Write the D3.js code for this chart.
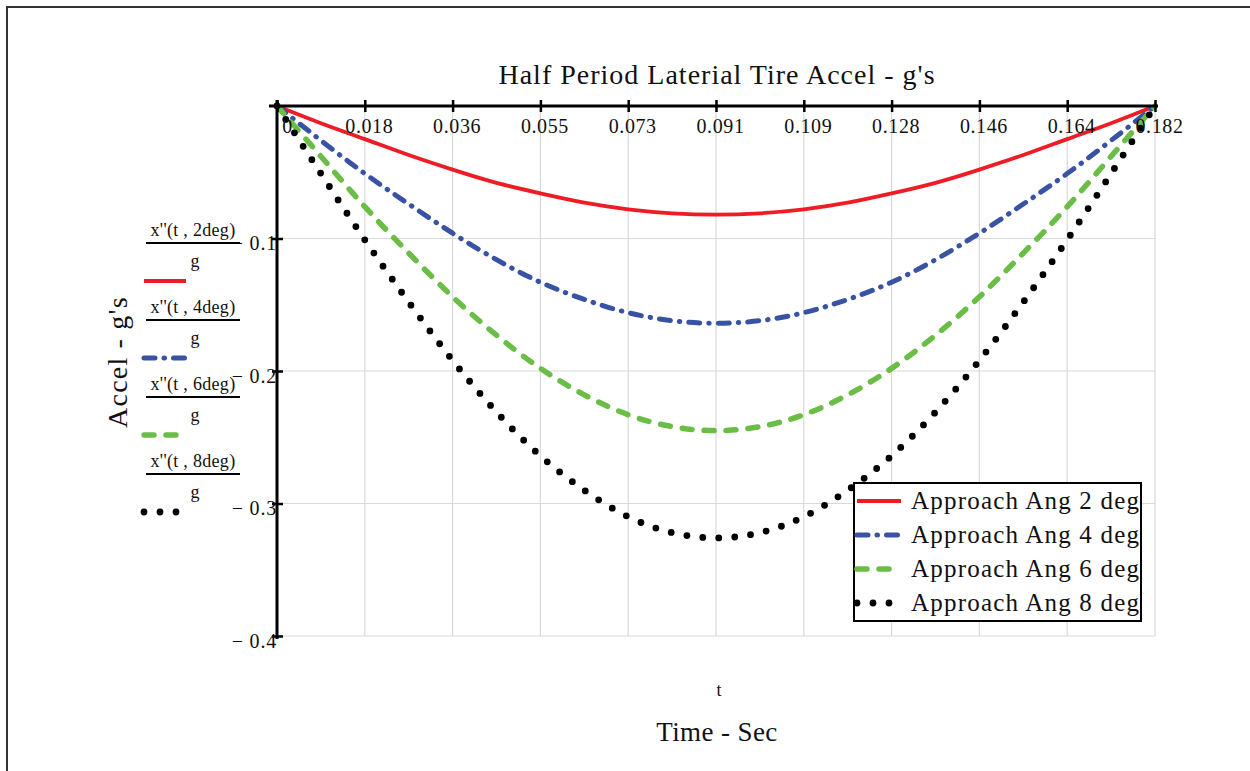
<!DOCTYPE html>
<html>
<head>
<meta charset="utf-8">
<script src="https://cdn.jsdelivr.net/npm/d3@7"></script>
<style>
  body { margin: 0; background: #fff; }
  text { font-family: "Liberation Serif", "DejaVu Serif", serif; fill: #111; }
</style>
</head>
<body>
<div id="chart"></div>
<script>
// time axis: 10 equal divisions up to half period
const tMax = 0.1822;
const xTickLabels = ["0", "0.018", "0.036", "0.055", "0.073", "0.091", "0.109", "0.128", "0.146", "0.164", "0.182"];
const yTickValues = [-0.1, -0.2, -0.3, -0.4];
const yTickLabels = ["\u2212 0.1", "\u2212 0.2", "\u2212 0.3", "\u2212 0.4"];

// values read at every half tick (21 samples)
const acc2 = [0, -0.013, -0.025, -0.037, -0.048, -0.058, -0.066, -0.073, -0.078, -0.081, -0.082,
              -0.081, -0.078, -0.073, -0.066, -0.058, -0.048, -0.037, -0.025, -0.013, 0];
const acc4 = [0, -0.026, -0.051, -0.074, -0.096, -0.116, -0.133, -0.146, -0.156, -0.162, -0.164,
              -0.162, -0.156, -0.146, -0.133, -0.116, -0.096, -0.074, -0.051, -0.026, 0];
const acc6 = [0, -0.038, -0.076, -0.111, -0.144, -0.173, -0.198, -0.218, -0.233, -0.242, -0.245,
              -0.242, -0.233, -0.218, -0.198, -0.173, -0.144, -0.111, -0.076, -0.038, 0];
const acc8 = [0, -0.051, -0.101, -0.148, -0.192, -0.231, -0.264, -0.290, -0.310, -0.322, -0.326,
              -0.322, -0.310, -0.290, -0.264, -0.231, -0.192, -0.148, -0.101, -0.051, 0];

const seriesNames = ["Approach Ang 2 deg", "Approach Ang 4 deg", "Approach Ang 6 deg", "Approach Ang 8 deg"];
const fracLabels = ["x''(t , 2deg)", "x''(t , 4deg)", "x''(t , 6deg)", "x''(t , 8deg)"];

const W = 1250, H = 771;
const pL = 277, pR = 1155, pT = 106, pB = 636;

const svg = d3.select("#chart").append("svg").attr("width", W).attr("height", H);

// outer frame
svg.append("rect").attr("x", 7).attr("y", 7).attr("width", W + 20).attr("height", H + 20)
  .attr("fill", "none").attr("stroke", "#333").attr("stroke-width", 2);

let x = d3.scaleLinear().domain([0, tMax]).range([pL, pR]);
let y = d3.scaleLinear().domain([0, -0.4]).range([pT, pB]);

const xTicks = xTickLabels.map((d, i) => tMax * i / 10);

// grid
svg.selectAll(".vg").data(xTicks.slice(1)).enter().append("line")
  .attr("x1", d => x(d)).attr("x2", d => x(d)).attr("y1", pT).attr("y2", pB)
  .attr("stroke", "#d9d9d9").attr("stroke-width", 1.2);
svg.selectAll(".hg").data(yTickValues).enter().append("line")
  .attr("x1", pL).attr("x2", pR).attr("y1", d => y(d)).attr("y2", d => y(d))
  .attr("stroke", "#d9d9d9").attr("stroke-width", 1.2);

const samples = acc2.map((d, i) => tMax * i / 20);
const line = d3.line().x((d, i) => x(samples[i])).y(d => y(d)).curve(d3.curveNatural);

const styles = [
  { color: "#ee1c25", width: 3.8, dash: null },
  { color: "#3953a4", width: 5, dash: "11,9,0.5,9" },
  { color: "#6abd45", width: 5.5, dash: "10,12" },
  { color: "#000", width: 6.8, dash: "0,16" }
];
const allSeries = [acc2, acc4, acc6, acc8];

allSeries.forEach((s, i) => {
  svg.append("path").datum(s).attr("d", line)
    .attr("fill", "none").attr("stroke", styles[i].color)
    .attr("stroke-width", styles[i].width)
    .attr("stroke-linecap", i == 0 ? "butt" : "round")
    .attr("stroke-dasharray", styles[i].dash);
});

// axes (top axis, left axis)
const xAxis = d3.axisTop(x).tickValues(xTicks).tickSize(0).tickFormat("");
const gx = svg.append("g").attr("transform", `translate(0,${pT})`).call(xAxis);
gx.select(".domain").attr("stroke", "#000").attr("stroke-width", 3).attr("d", `M${pL - 8},0H${pR + 3}`);
gx.selectAll(".tick").append("line").attr("y1", -6).attr("y2", 6).attr("stroke", "#000").attr("stroke-width", 2.5);
gx.selectAll(".tick").append("text")
  .attr("x", (d, i) => i == 0 ? 10 : 4).attr("y", 27)
  .attr("text-anchor", "middle").attr("font-size", 20).attr("letter-spacing", 0.6)
  .text((d, i) => xTickLabels[i]);

const yAxis = d3.axisLeft(y).tickValues(yTickValues).tickSize(0).tickFormat("");
const gy = svg.append("g").attr("transform", `translate(${pL},0)`).call(yAxis);
gy.select(".domain").attr("stroke", "#000").attr("stroke-width", 3).attr("d", `M0,${pT - 6}V${pB + 3}`);
gy.selectAll(".tick").append("line").attr("x1", -5).attr("x2", 6).attr("stroke", "#000").attr("stroke-width", 2.5);
gy.selectAll(".tick").append("text")
  .attr("x", 0).attr("y", 11)
  .attr("text-anchor", "end").attr("font-size", 20).attr("letter-spacing", 0.8)
  .text((d, i) => yTickLabels[i]);

// titles
svg.append("text").attr("x", 717).attr("y", 84).attr("text-anchor", "middle")
  .attr("font-size", 28).attr("letter-spacing", 1).text("Half Period Laterial Tire Accel - g's");
svg.append("text").attr("transform", "translate(127,362) rotate(-90)").attr("text-anchor", "middle")
  .attr("font-size", 28).attr("letter-spacing", 1.2).text("Accel - g's");
svg.append("text").attr("x", 719).attr("y", 696).attr("text-anchor", "middle")
  .attr("font-size", 18).text("t");
svg.append("text").attr("x", 717).attr("y", 741).attr("text-anchor", "middle")
  .attr("font-size", 27).attr("letter-spacing", 0.4).text("Time - Sec");

// left legend (fractions over g)
fracLabels.forEach((lab, i) => {
  const oy = 243 + i * 77;
  svg.append("text").attr("x", 193).attr("y", oy - 7).attr("text-anchor", "middle")
    .attr("font-size", 18).attr("letter-spacing", 0.3).text(lab);
  svg.append("line").attr("x1", 146).attr("x2", 240).attr("y1", oy).attr("y2", oy)
    .attr("stroke", "#000").attr("stroke-width", 2);
  svg.append("text").attr("x", 195).attr("y", oy + 24).attr("text-anchor", "middle")
    .attr("font-size", 18).text("g");
  svg.append("line").attr("x1", 144).attr("x2", 186).attr("y1", oy + 38).attr("y2", oy + 38)
    .attr("stroke", styles[i].color).attr("stroke-width", styles[i].width)
    .attr("stroke-linecap", i == 0 ? "butt" : "round")
    .attr("stroke-dasharray", styles[i].dash);
});

// right legend box
const lg = svg.append("g").attr("transform", "translate(854,483)");
lg.append("rect").attr("width", 287).attr("height", 138)
  .attr("fill", "#fff").attr("stroke", "#000").attr("stroke-width", 2);
seriesNames.forEach((n, i) => {
  const ly = 18 + i * 34;
  lg.append("line").attr("x1", 3).attr("x2", 47).attr("y1", ly).attr("y2", ly)
    .attr("stroke", styles[i].color).attr("stroke-width", styles[i].width)
    .attr("stroke-linecap", i == 0 ? "butt" : "round")
    .attr("stroke-dasharray", styles[i].dash);
  lg.append("text").attr("x", 57).attr("y", ly + 8).attr("font-size", 25).attr("letter-spacing", 1.2).text(n);
});
</script>
</body>
</html>
